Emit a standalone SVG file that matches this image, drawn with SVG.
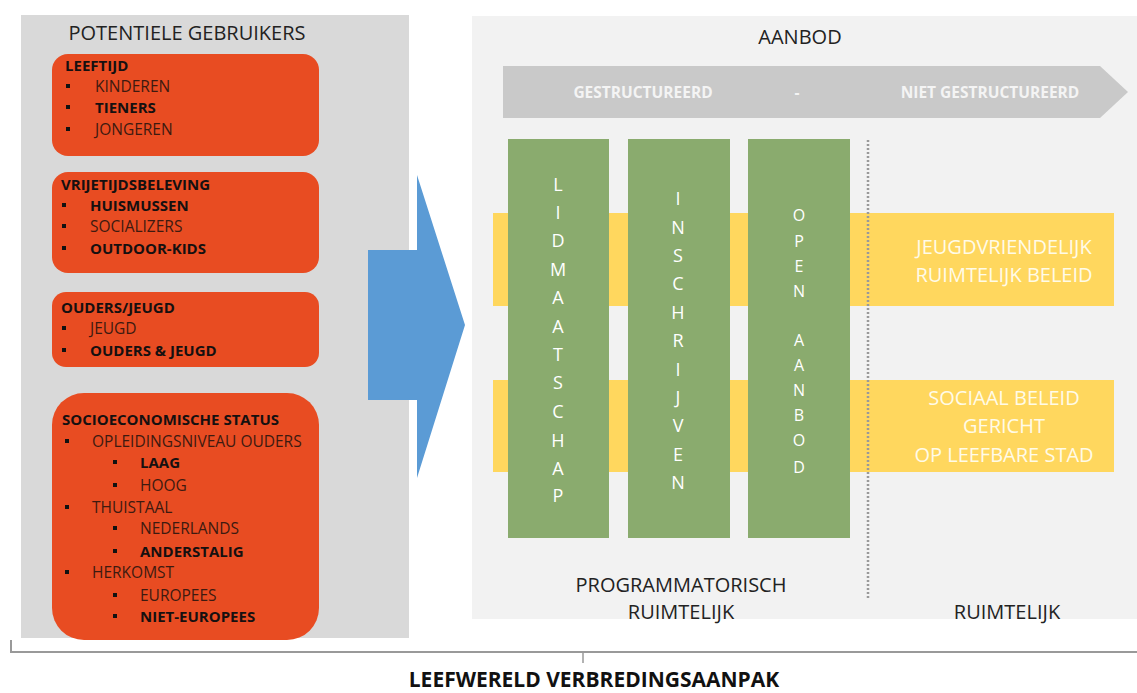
<svg xmlns="http://www.w3.org/2000/svg" width="1137" height="693" viewBox="0 0 1137 693">
<style>
text{font-family:"Open Sans","Liberation Sans",sans-serif;}
.hd{font-size:20px;fill:#222;text-anchor:middle;}
.ob{font-size:15px;font-weight:bold;fill:#151010;}
.on{font-size:15.5px;fill:#3d1a10;}
.bul{fill:#111;}
.org{fill:#e84c22;}
.grn{fill:#8aab6e;}
.yel{fill:#ffd75e;}
.gl{font-size:18px;fill:#fff;text-anchor:middle;}
.gl3{font-size:16px;fill:#fff;text-anchor:middle;}
.yt{font-size:20px;fill:#fffbe8;text-anchor:middle;}
.at{font-size:15.5px;font-weight:bold;fill:#f4f4f4;text-anchor:middle;}
</style>
<rect width="1137" height="693" fill="#fff"/>
<g id="left-panel">
<rect x="21" y="15" width="388" height="623" fill="#d9d9d9"/>
<text class="hd" x="187" y="40">POTENTIELE GEBRUIKERS</text>
</g>
<g id="leeftijd">
<rect class="org" x="52" y="54" width="267" height="102" rx="16"/>
<text class="ob" x="65" y="71">LEEFTIJD</text>
<rect class="bul" x="66" y="84" width="4" height="4"/><text class="on" x="95" y="92">KINDEREN</text>
<rect class="bul" x="66" y="105" width="4" height="4"/><text class="ob" x="95" y="113">TIENERS</text>
<rect class="bul" x="66" y="127" width="4" height="4"/><text class="on" x="95" y="135">JONGEREN</text>
</g>
<g id="vrijetijdsbeleving">
<rect class="org" x="52" y="172" width="267" height="101" rx="16"/>
<text class="ob" x="61" y="190">VRIJETIJDSBELEVING</text>
<rect class="bul" x="62" y="203" width="4" height="4"/><text class="ob" x="90" y="211">HUISMUSSEN</text>
<rect class="bul" x="62" y="224" width="4" height="4"/><text class="on" x="90" y="232">SOCIALIZERS</text>
<rect class="bul" x="62" y="246" width="4" height="4"/><text class="ob" x="90" y="254">OUTDOOR-KIDS</text>
</g>
<g id="ouders-jeugd">
<rect class="org" x="52" y="292" width="267" height="75" rx="14"/>
<text class="ob" x="61" y="313">OUDERS/JEUGD</text>
<rect class="bul" x="62" y="326" width="4" height="4"/><text class="on" x="90" y="334">JEUGD</text>
<rect class="bul" x="62" y="348" width="4" height="4"/><text class="ob" x="90" y="356">OUDERS &amp; JEUGD</text>
</g>
<g id="socioeconomische-status">
<rect class="org" x="52" y="393" width="267" height="247" rx="32"/>
<text class="ob" x="62" y="425">SOCIOECONOMISCHE STATUS</text>
<rect class="bul" x="65" y="439" width="4" height="4"/><text class="on" x="92" y="447">OPLEIDINGSNIVEAU OUDERS</text>
<rect class="bul" x="113" y="460" width="4" height="4"/><text class="ob" x="140" y="468">LAAG</text>
<rect class="bul" x="113" y="483" width="4" height="4"/><text class="on" x="140" y="491">HOOG</text>
<rect class="bul" x="65" y="505" width="4" height="4"/><text class="on" x="92" y="513">THUISTAAL</text>
<rect class="bul" x="113" y="526" width="4" height="4"/><text class="on" x="140" y="534">NEDERLANDS</text>
<rect class="bul" x="113" y="549" width="4" height="4"/><text class="ob" x="140" y="557">ANDERSTALIG</text>
<rect class="bul" x="65" y="570" width="4" height="4"/><text class="on" x="92" y="578">HERKOMST</text>
<rect class="bul" x="113" y="593" width="4" height="4"/><text class="on" x="140" y="601">EUROPEES</text>
<rect class="bul" x="113" y="614" width="4" height="4"/><text class="ob" x="140" y="622">NIET-EUROPEES</text>
</g>
<g id="right-panel">
<rect x="472" y="16" width="665" height="603" fill="#f2f2f2"/>
<text class="hd" x="800" y="44">AANBOD</text>
</g>
<g id="gestructureerd-arrow">
<polygon points="503,66 1100,66 1128,92 1100,118 503,118" fill="#c9c9c9"/>
<text class="at" x="643" y="98">GESTRUCTUREERD</text>
<text class="at" x="797" y="98">-</text>
<text class="at" x="990" y="98">NIET GESTRUCTUREERD</text>
</g>
<g id="beleid-bands">
<rect class="yel" x="493" y="213" width="621" height="93"/>
<rect class="yel" x="493" y="380" width="621" height="92"/>
<text class="yt" x="1004" y="254">JEUGDVRIENDELIJK</text>
<text class="yt" x="1004" y="282">RUIMTELIJK BELEID</text>
<text class="yt" x="1004" y="405">SOCIAAL BELEID</text>
<text class="yt" x="1004" y="433">GERICHT</text>
<text class="yt" x="1004" y="462">OP LEEFBARE STAD</text>
</g>
<g id="lidmaatschap">
<rect class="grn" x="508" y="139" width="101" height="399"/>
<text class="gl" x="558" y="191">L</text><text class="gl" x="558" y="219">I</text><text class="gl" x="558" y="247">D</text><text class="gl" x="558" y="276">M</text><text class="gl" x="558" y="304">A</text><text class="gl" x="558" y="333">A</text><text class="gl" x="558" y="361">T</text><text class="gl" x="558" y="389">S</text><text class="gl" x="558" y="418">C</text><text class="gl" x="558" y="447">H</text><text class="gl" x="558" y="475">A</text><text class="gl" x="558" y="502">P</text>
</g>
<g id="inschrijven">
<rect class="grn" x="628" y="139" width="102" height="399"/>
<text class="gl" x="678" y="205">I</text><text class="gl" x="678" y="234">N</text><text class="gl" x="678" y="262">S</text><text class="gl" x="678" y="290">C</text><text class="gl" x="678" y="319">H</text><text class="gl" x="678" y="347">R</text><text class="gl" x="678" y="376">I</text><text class="gl" x="678" y="404">J</text><text class="gl" x="678" y="432">V</text><text class="gl" x="678" y="461">E</text><text class="gl" x="678" y="489">N</text>
</g>
<g id="open-aanbod">
<rect class="grn" x="748" y="139" width="102" height="399"/>
<text class="gl3" x="799" y="221">O</text><text class="gl3" x="799" y="247">P</text><text class="gl3" x="799" y="272">E</text><text class="gl3" x="799" y="297">N</text><text class="gl3" x="799" y="346">A</text><text class="gl3" x="799" y="371">A</text><text class="gl3" x="799" y="396">N</text><text class="gl3" x="799" y="421">B</text><text class="gl3" x="799" y="446">O</text><text class="gl3" x="799" y="473">D</text>
</g>
<g id="labels">
<text class="hd" x="681" y="592">PROGRAMMATORISCH</text>
<text class="hd" x="681" y="619">RUIMTELIJK</text>
<text class="hd" x="1007" y="619">RUIMTELIJK</text>
<text x="594" y="687" style="font-size:21px;font-weight:bold;fill:#111;text-anchor:middle">LEEFWERELD VERBREDINGSAANPAK</text>
</g>
<g id="connectors">
<polygon points="368,250 417,250 417,175 465,325 417,478 417,400 368,400" fill="#5b9bd5"/>
<line x1="868" y1="140" x2="868" y2="600" stroke="#999" stroke-width="2.5" stroke-dasharray="2,2"/>
<path d="M11,640 V652 H1137" fill="none" stroke="#999" stroke-width="2"/>
<line x1="583" y1="652" x2="583" y2="663" stroke="#999" stroke-width="1.5"/>
</g>
</svg>
